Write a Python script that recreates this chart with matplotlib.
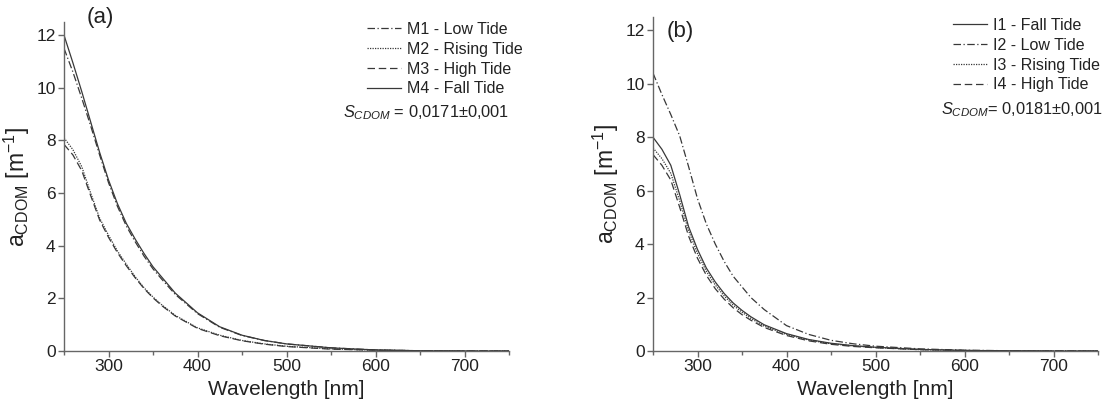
import numpy as np
import matplotlib
matplotlib.use('Agg')
import matplotlib.pyplot as plt

plt.rcParams['font.family'] = ['Liberation Sans', 'DejaVu Sans']
plt.rcParams['mathtext.fontset'] = 'custom'
plt.rcParams['mathtext.rm'] = 'Liberation Sans'
plt.rcParams['mathtext.it'] = 'Liberation Sans:italic'

# wavelength grid (nm)
wl = [250, 260, 270, 280, 290, 300, 310, 320, 330, 340, 350, 360, 375,
      400, 425, 450, 475, 500, 550, 600, 650, 700, 750]

# panel (a)
m1 = [11.5, 10.6, 9.6, 8.55, 7.45, 6.4, 5.5, 4.75, 4.15, 3.6, 3.12, 2.72, 2.15,
      1.42, 0.9, 0.59, 0.4, 0.27, 0.12, 0.04, 0.01, 0.0, 0.0]
m2 = [8.1, 7.65, 7.0, 6.0, 5.05, 4.4, 3.8, 3.3, 2.82, 2.4, 2.05, 1.75, 1.35,
      0.88, 0.6, 0.4, 0.27, 0.18, 0.08, 0.03, 0.01, 0.0, 0.0]
m3 = [7.85, 7.45, 6.85, 5.9, 4.98, 4.32, 3.74, 3.24, 2.78, 2.37, 2.02, 1.72, 1.33,
      0.86, 0.58, 0.39, 0.26, 0.17, 0.07, 0.03, 0.01, 0.0, 0.0]
m4 = [12.0, 10.95, 9.85, 8.7, 7.55, 6.5, 5.6, 4.85, 4.25, 3.7, 3.2, 2.8, 2.2,
      1.45, 0.92, 0.6, 0.4, 0.27, 0.12, 0.04, 0.01, 0.0, 0.0]

# panel (b)
i1 = [8.0, 7.55, 6.95, 5.85, 4.65, 3.8, 3.1, 2.58, 2.15, 1.8, 1.52, 1.28, 0.98,
      0.65, 0.43, 0.29, 0.2, 0.14, 0.06, 0.02, 0.01, 0.0, 0.0]
i2 = [10.4, 9.6, 8.85, 8.05, 6.9, 5.7, 4.75, 4.0, 3.35, 2.8, 2.4, 2.0, 1.55,
      0.95, 0.62, 0.4, 0.27, 0.18, 0.08, 0.03, 0.01, 0.0, 0.0]
i3 = [7.6, 7.2, 6.65, 5.62, 4.5, 3.65, 2.98, 2.47, 2.06, 1.72, 1.45, 1.22, 0.93,
      0.62, 0.41, 0.27, 0.19, 0.13, 0.05, 0.02, 0.0, 0.0, 0.0]
i4 = [7.35, 6.95, 6.4, 5.38, 4.3, 3.47, 2.83, 2.33, 1.94, 1.62, 1.36, 1.15, 0.88,
      0.58, 0.38, 0.25, 0.17, 0.12, 0.05, 0.02, 0.0, 0.0, 0.0]

dashdot = (0, (6, 2, 1, 2))
dotted = (0, (1, 1))
dashed = (0, (6, 3))
lc = '#383838'

fig = plt.figure(figsize=(11.1, 4.09), dpi=100)
ax1 = fig.add_axes([64/1110, 1-351/409, 445/1110, 329/409])
ax2 = fig.add_axes([653/1110, 1-351/409, 445/1110, 334/409])

ax1.plot(wl, m1, color=lc, lw=0.9, ls=dashdot, label='M1 - Low Tide')
ax1.plot(wl, m2, color=lc, lw=0.9, ls=dotted, label='M2 - Rising Tide')
ax1.plot(wl, m3, color=lc, lw=0.9, ls=dashed, label='M3 - High Tide')
ax1.plot(wl, m4, color=lc, lw=0.9, ls='-', label='M4 - Fall Tide')

ax2.plot(wl, i1, color=lc, lw=0.9, ls='-', label='I1 - Fall Tide')
ax2.plot(wl, i2, color=lc, lw=0.9, ls=dashdot, label='I2 - Low Tide')
ax2.plot(wl, i3, color=lc, lw=0.9, ls=dotted, label='I3 - Rising Tide')
ax2.plot(wl, i4, color=lc, lw=0.9, ls=dashed, label='I4 - High Tide')

for ax in (ax1, ax2):
    ax.set_xlim(250, 750)
    ax.set_ylim(0, 12.5)
    ax.set_xticks([300, 400, 500, 600, 700])
    ax.set_xticks([250, 350, 450, 550, 650, 750], minor=True)
    ax.set_yticks([0, 2, 4, 6, 8, 10, 12])
    for s in ('top', 'right'):
        ax.spines[s].set_visible(False)
    for s in ('left', 'bottom'):
        ax.spines[s].set_color('#666666')
        ax.spines[s].set_linewidth(1.0)
    ax.tick_params(which='major', direction='out', length=4, width=1,
                   color='#666666', labelsize=12.5, labelcolor='#222222', pad=2)
    ax.tick_params(which='minor', direction='out', length=3, width=1, color='#666666')
    ax.set_xlabel('Wavelength [nm]', fontsize=15, color='#222222', labelpad=4)
    ax.set_ylabel(r'a$_\mathregular{CDOM}$ [m$^\mathregular{-1}$]', fontsize=16.5,
                  color='#222222', labelpad=3)

fig.text(100/1110, 1-18/409, '(a)', fontsize=16, color='#222222', ha='center', va='center')
fig.text(680/1110, 1-31/409, '(b)', fontsize=16, color='#222222', ha='center', va='center')

leg_kw = dict(frameon=False, fontsize=11.5, handlelength=2.1, handletextpad=0.4,
              labelspacing=0.3, borderpad=0, borderaxespad=0,
              bbox_transform=fig.transFigure, loc='upper left', labelcolor='#222222')
ax1.legend(bbox_to_anchor=(367/1110, 1-22/409), **leg_kw)
ax2.legend(bbox_to_anchor=(953/1110, 1-18/409), **leg_kw)

fig.text(343/1110, 1-113/409, r'$S_{CDOM}$ = 0,0171±0,001', fontsize=11.8,
         color='#222222', va='center', ha='left')
fig.text(941/1110, 1-110/409, r'$S_{CDOM}$= 0,0181±0,001', fontsize=11.8,
         color='#222222', va='center', ha='left')

fig.savefig('out.png', dpi=100)
